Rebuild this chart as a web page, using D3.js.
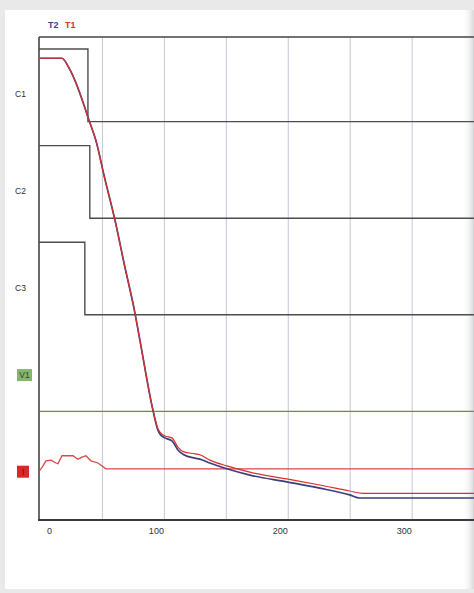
<!DOCTYPE html>
<meta charset="utf-8">
<style>
body { margin: 0; background: #e9e9e9; }
svg { display: block; font-family: "Liberation Sans", Arial, sans-serif; }
.grid line { stroke: #c6c6d8; stroke-width: 1px; }
.grid path { display: none; }
.step { fill: none; stroke: #4d4d4d; stroke-width: 1.4px; }
.xaxis text { font-size: 9px; fill: #333; }
.chan { font-size: 8.5px; }
</style>

<svg width="474" height="593"></svg>

<script src="https://d3js.org/d3.v7.min.js"></script>
<script>

// channels stacked from top to bottom
var channels = ["C1", "C2", "C3", "V1", "I"];

// x ticks and grid (time, s)
var xTicks = [0, 100, 200, 300];
var gridTimes = [50, 100, 150, 200, 250, 300, 350];

// digital channels: time of change / level
var c1Time = [0, 39.5, 360];
var c1Level = [1, 0, 0];
var c2Time = [0, 41, 360];
var c2Level = [1, 0, 0];
var c3Time = [0, 37, 360];
var c3Level = [1, 0, 0];
var v1Time = [0, 360];
var v1Level = [0, 0];

// current I (% of band)
var iTime = [0, 2.4, 4.8, 8.9, 12.9, 14.5, 17.7, 22, 26.6, 30.6, 33.9, 37.1, 41.1, 46.8, 53.2, 360];
var iValue = [52, 58, 65, 66, 62, 61, 72, 72, 72, 67, 70, 72, 65, 62, 54, 54];

// temperatures T2 (blue) and T1 (red)
var t2Time = [0, 17.7, 23.4, 29.0, 34.7, 39.5, 45.2, 52, 60.5, 68, 76.6, 80.6, 91.1, 95.2, 96.8, 100.8, 106.5, 111.3, 116.1, 125, 129, 137.1, 150.8, 169.4, 199.2, 225.8, 250, 258.1, 360];
var t2Temp = [956, 956, 936, 905, 865, 828, 785, 710, 621, 530, 429, 373, 228, 186, 178, 170, 164, 145, 135, 128, 126, 118, 106, 93, 79, 66, 52, 45.5, 45.5];
var t1Time = [0, 17.7, 23.4, 29.0, 34.7, 39.5, 45.2, 52, 60.5, 68, 76.6, 80.6, 91.1, 95.2, 96.8, 100.8, 106.5, 111.3, 116.1, 125, 129, 137.1, 150.8, 169.4, 199.2, 225.8, 250, 260.5, 360];
var t1Temp = [956, 956, 936, 905, 865, 828, 785, 710, 621, 530, 429, 373, 229, 189, 182, 174, 170, 151, 141, 137, 135, 124, 112, 99, 85, 72.5, 60, 55, 55];

var svg = d3.select("svg"),
    width = +svg.attr("width"),
    height = +svg.attr("height");

var plotLeft = 39, plotTop = 37, plotBottom = 520;

var x = d3.scaleLinear().domain([0, 360]).range([40, 486]);
var band = d3.scaleBand().domain(channels).range([plotTop, plotBottom]);
var yT = d3.scaleLinear().domain([0, 1000]).range([plotBottom, plotTop]);

function levelScale(ch, max) {
  return d3.scaleLinear()
    .domain([0, max])
    .range([band(ch) + band.bandwidth() - 12, band(ch) + 12]);
}

function zip(a, b) {
  return a.map(function(d, i) { return [d, b[i]]; });
}

// paper
var grad = svg.append("defs").append("linearGradient")
    .attr("id", "edge").attr("x1", 0).attr("x2", 1);
grad.append("stop").attr("offset", "0").attr("stop-color", "#fff").attr("stop-opacity", 0);
grad.append("stop").attr("offset", "1").attr("stop-color", "#d8d8d8").attr("stop-opacity", 1);

svg.append("rect").attr("x", 5).attr("y", 10).attr("width", width - 5).attr("height", 579)
    .attr("fill", "#fff");
svg.append("rect").attr("x", 462).attr("y", 10).attr("width", 12).attr("height", 579)
    .attr("fill", "url(#edge)");

// vertical grid
svg.append("g")
    .attr("class", "grid")
    .attr("transform", "translate(0," + plotBottom + ")")
    .call(d3.axisBottom(x).tickValues(gridTimes).tickSize(-(plotBottom - plotTop)).tickFormat(""));

// frame
svg.append("line").attr("x1", plotLeft).attr("x2", width).attr("y1", plotTop).attr("y2", plotTop)
    .attr("stroke", "#444").attr("stroke-width", 1.6);
svg.append("line").attr("x1", plotLeft).attr("x2", plotLeft).attr("y1", plotTop).attr("y2", plotBottom)
    .attr("stroke", "#444").attr("stroke-width", 1.6);
svg.append("line").attr("x1", plotLeft - 1).attr("x2", width).attr("y1", plotBottom).attr("y2", plotBottom)
    .attr("stroke", "#3a3a3a").attr("stroke-width", 2.2);

// x axis labels
var xAxis = svg.append("g")
    .attr("class", "xaxis")
    .attr("transform", "translate(0," + plotBottom + ")")
    .call(d3.axisBottom(x).tickValues(xTicks).tickSize(0).tickPadding(8));
xAxis.select(".domain").remove();
xAxis.selectAll("text")
    .attr("dx", function(d) { return d == 0 ? 9 : -8; });

// digital channels
var stepLine = function(scale) {
  return d3.line()
    .curve(d3.curveStepAfter)
    .x(function(d) { return x(d[0]); })
    .y(function(d) { return scale(d[1]); });
};

[["C1", c1Time, c1Level], ["C2", c2Time, c2Level], ["C3", c3Time, c3Level]].forEach(function(c) {
  svg.append("path")
      .attr("class", "step")
      .attr("d", stepLine(levelScale(c[0], 1))(zip(c[1], c[2])))
      .attr("transform", "translate(-1,0)");
  svg.append("text")
      .attr("class", "chan")
      .attr("x", 15)
      .attr("y", band(c[0]) + band.bandwidth() / 2 + 12)
      .style("fill", "#2e2e2e")
      .text(c[0]);
});

svg.append("path")
    .attr("fill", "none")
    .attr("stroke", "#5a935a")
    .attr("stroke-width", 1.2)
    .attr("d", stepLine(levelScale("V1", 1))(zip(v1Time, v1Level)));

var yI = levelScale("I", 100);
svg.append("path")
    .attr("fill", "none")
    .attr("stroke", "#d84848")
    .attr("stroke-width", 1.3)
    .attr("d", d3.line()
      .x(function(d) { return x(d[0]); })
      .y(function(d) { return yI(d[1]); })(zip(iTime, iValue)));

// badges
var vb = band("V1") + band.bandwidth() / 2 + 5;
svg.append("rect").attr("x", 17).attr("y", vb - 11).attr("width", 15).attr("height", 12)
    .attr("fill", "#86b46f");
svg.append("text").attr("class", "chan").attr("x", 24.5).attr("y", vb - 2)
    .attr("text-anchor", "middle").style("fill", "#2d4a22").text("V1");
var ib = band("I") + band.bandwidth() / 2 + 5;
svg.append("rect").attr("x", 17).attr("y", ib - 11).attr("width", 12).attr("height", 12)
    .attr("fill", "#d62a2a");
svg.append("text").attr("class", "chan").attr("x", 23).attr("y", ib - 2)
    .attr("text-anchor", "middle").style("fill", "#5a1010").text("I");

// temperatures
var tLine = d3.line()
    .curve(d3.curveMonotoneX)
    .x(function(d) { return x(d[0]); })
    .y(function(d) { return yT(d[1]); });

svg.append("path")
    .attr("fill", "none")
    .attr("stroke", "#3c3f7c")
    .attr("stroke-width", 1.7)
    .attr("d", tLine(zip(t2Time, t2Temp)));

svg.append("path")
    .attr("fill", "none")
    .attr("stroke", "#d8302c")
    .attr("stroke-width", 1.2)
    .attr("d", tLine(zip(t1Time, t1Temp)));

// legend
svg.append("text").attr("x", 48).attr("y", 28).attr("font-size", 9).attr("font-weight", "bold")
    .attr("fill", "#3c3f7c").text("T2");
svg.append("text").attr("x", 65).attr("y", 28).attr("font-size", 9).attr("font-weight", "bold")
    .attr("fill", "#d8302c").text("T1");

</script>
